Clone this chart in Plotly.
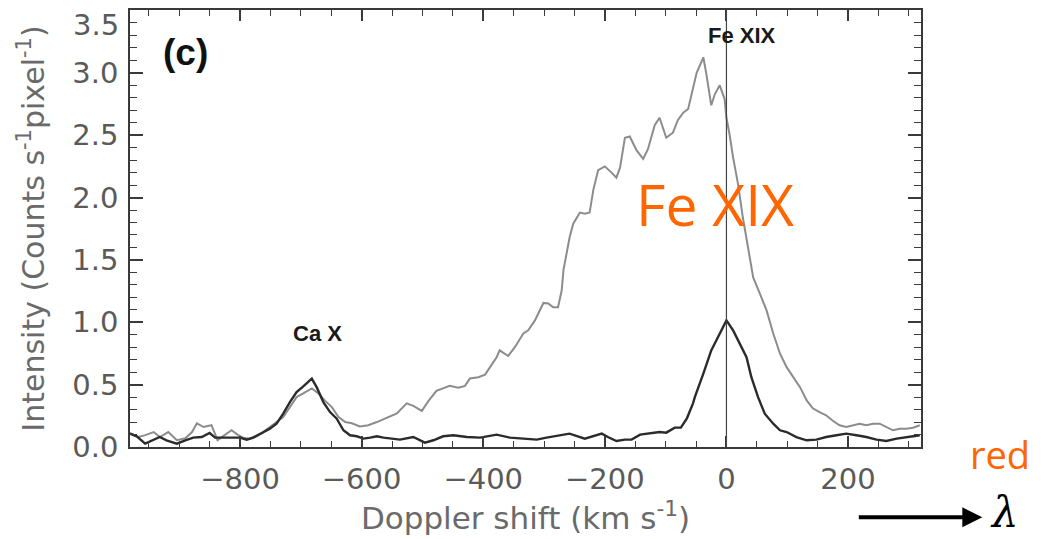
import plotly.graph_objects as go

# ---------------- data ----------------
gray_x = [-981, -967, -956, -942, -932, -918, -904, -890, -879, -871, -860, -847, -837, -825,
          -814, -803, -795, -784, -773, -762, -751, -740, -729, -718, -707, -696, -682, -671,
          -660, -649, -638, -627, -616, -603, -589, -575, -564, -556, -542, -526, -515, -501,
          -490, -477, -466, -455, -441, -430, -422, -408, -397, -389, -378, -373, -359, -348,
          -334, -326, -315, -301, -293, -285, -277, -271, -268, -258, -252, -241, -233, -225,
          -219, -211, -200, -189, -181, -175, -167, -159, -148, -137, -129, -118, -110, -99,
          -88, -80, -71, -63, -56, -49, -38, -33, -25, -19, -11, -3, 0, 5, 11, 19, 27, 36,
          44, 55, 66, 77, 88, 99, 110, 121, 132, 142, 153, 164, 175, 186, 197, 208, 219, 230,
          241, 252, 263, 274, 285, 296, 307, 318]
gray_y = [0.11, 0.08, 0.095, 0.12, 0.08, 0.12, 0.055, 0.07, 0.12, 0.19, 0.16, 0.175, 0.055, 0.095,
          0.135, 0.095, 0.075, 0.067, 0.095, 0.12, 0.16, 0.20, 0.24, 0.32, 0.40, 0.43, 0.47, 0.43,
          0.37, 0.32, 0.24, 0.20, 0.19, 0.165, 0.175, 0.20, 0.225, 0.24, 0.27, 0.35, 0.33, 0.29,
          0.37, 0.45, 0.47, 0.49, 0.475, 0.49, 0.55, 0.56, 0.58, 0.64, 0.72, 0.775, 0.73, 0.80,
          0.91, 0.935, 1.015, 1.155, 1.15, 1.12, 1.12, 1.255, 1.42, 1.68, 1.79, 1.88, 1.87, 1.88,
          2.06, 2.22, 2.25, 2.20, 2.16, 2.24, 2.48, 2.49, 2.38, 2.31, 2.39, 2.58, 2.64, 2.48,
          2.52, 2.62, 2.68, 2.71, 2.86, 3.00, 3.125, 2.99, 2.74, 2.83, 2.90, 2.79, 2.64, 2.51,
          2.32, 2.11, 1.84, 1.576, 1.36, 1.23, 1.095, 0.91, 0.75, 0.64, 0.56, 0.48, 0.374, 0.31,
          0.28, 0.254, 0.21, 0.174, 0.16, 0.174, 0.187, 0.174, 0.187, 0.187, 0.16, 0.134, 0.147,
          0.147, 0.155, 0.174]

black_x = [-981, -970, -956, -942, -932, -921, -904, -890, -877, -863, -850, -841, -833, -822,
           -811, -800, -789, -778, -764, -751, -740, -729, -718, -707, -696, -682, -674, -663,
           -652, -641, -630, -619, -608, -597, -586, -575, -564, -553, -537, -515, -496, -482,
           -466, -449, -427, -405, -378, -356, -334, -312, -296, -274, -258, -233, -205, -195,
           -181, -167, -156, -142, -126, -110, -99, -85, -75, -65, -55, -52, -38, -25, -14, 0,
           11, 22, 33, 41, 52, 63, 77, 88, 99, 115, 132, 148, 164, 181, 197, 214, 230, 247, 263,
           280, 296, 307, 318]
black_y = [0.107, 0.086, 0.027, 0.059, 0.08, 0.054, 0.027, 0.054, 0.075, 0.08, 0.112, 0.075, 0.075,
           0.075, 0.075, 0.075, 0.059, 0.075, 0.112, 0.147, 0.187, 0.268, 0.36, 0.44, 0.486, 0.548,
           0.48, 0.36, 0.28, 0.227, 0.134, 0.094, 0.086, 0.067, 0.075, 0.086, 0.075, 0.067, 0.059,
           0.08, 0.035, 0.054, 0.086, 0.094, 0.08, 0.075, 0.099, 0.075, 0.067, 0.059, 0.075, 0.097,
           0.107, 0.067, 0.107, 0.08, 0.048, 0.059, 0.059, 0.099, 0.107, 0.12, 0.115, 0.155, 0.155,
           0.23, 0.35, 0.40, 0.588, 0.775, 0.88, 1.015, 0.935, 0.83, 0.72, 0.56, 0.40, 0.267, 0.187,
           0.134, 0.12, 0.08, 0.054, 0.059, 0.08, 0.094, 0.107, 0.094, 0.08, 0.059, 0.048, 0.067,
           0.075, 0.086, 0.094]

X_RANGE = [-981, 320]
Y_RANGE = [0, 3.504]
Y_TICKS = [0.0, 0.5, 1.0, 1.5, 2.0, 2.5, 3.0, 3.5]
Y_TICK_TEXT = ["0.0", "0.5", "1.0", "1.5", "2.0", "2.5", "3.0", ""]  # top label drawn below
TOP_LABEL = "3.5"
REST_VELOCITY = 0  # Fe XIX rest position (vertical line)

# ---------------- figure ----------------
AXIS_COLOR = "#3a3a3a"
TICK_FONT = dict(family="DejaVu Sans", size=29, color="#5a5a5a")
YTITLE_FONT = dict(family="DejaVu Sans", size=30, color="#6a6a6a")
XTITLE_FONT = dict(family="DejaVu Sans", size=31, color="#6a6a6a")

fig = go.Figure()
fig.add_trace(go.Scatter(x=gray_x, y=gray_y, mode="lines",
                         line=dict(color="#8c8c8c", width=2), showlegend=False,
                         hoverinfo="skip"))
fig.add_trace(go.Scatter(x=black_x, y=black_y, mode="lines",
                         line=dict(color="#2b2b2b", width=2.4), showlegend=False,
                         hoverinfo="skip"))

fig.add_shape(type="line", xref="x", yref="paper", x0=REST_VELOCITY, x1=REST_VELOCITY,
              y0=0, y1=1, line=dict(color="#444444", width=1.2))

fig.update_xaxes(range=X_RANGE, dtick=200, tick0=0, ticks="inside", ticklen=11, tickwidth=1.6,
                 tickcolor=AXIS_COLOR, showline=True, linecolor=AXIS_COLOR, linewidth=1.6,
                 mirror="ticks", showgrid=False, zeroline=False, tickfont=TICK_FONT,
                 ticklabelstandoff=5, automargin=False,
                 minor=dict(ticks="inside", ticklen=6, dtick=50, tickcolor=AXIS_COLOR,
                            tickwidth=1.3, showgrid=False),
                 title=dict(text="Doppler shift (km s<sup>-1</sup>)", font=XTITLE_FONT,
                            standoff=12))
fig.update_yaxes(range=Y_RANGE, tickvals=Y_TICKS, ticktext=Y_TICK_TEXT, ticks="inside",
                 ticklen=13, tickwidth=1.6, tickcolor=AXIS_COLOR, showline=True,
                 linecolor=AXIS_COLOR, linewidth=1.6, mirror="ticks", showgrid=False,
                 zeroline=False, tickfont=TICK_FONT, ticklabelstandoff=4,
                 ticklabeloverflow="allow", automargin=False,
                 minor=dict(ticks="inside", ticklen=7, dtick=0.1, tickcolor=AXIS_COLOR,
                            tickwidth=1.3, showgrid=False),
                 title=dict(text="Intensity (Counts s<sup>-1</sup>pixel<sup>-1</sup>)",
                            font=YTITLE_FONT, standoff=19))

# top tick label, nudged down into the figure as in the reference
fig.add_annotation(x=0, y=Y_TICKS[-1], xref="paper", yref="y", text=TOP_LABEL,
                   showarrow=False, xanchor="right", yanchor="middle", xshift=-9, yshift=-14,
                   font=TICK_FONT)

ann_font = dict(family="Liberation Sans", color="#1a1a1a")
fig.add_annotation(x=-889, y=3.16, xref="x", yref="y", text="<b>(c)</b>", showarrow=False,
                   font=dict(family="Liberation Sans", size=37, color="#111111"))
fig.add_annotation(x=-673, y=0.91, xref="x", yref="y", text="<b>Ca X</b>", showarrow=False,
                   font=dict(size=22, **ann_font))
fig.add_annotation(x=25, y=3.30, xref="x", yref="y", text="<b>Fe XIX</b>", showarrow=False,
                   font=dict(size=22, **ann_font))
fig.add_annotation(x=-19, y=1.95, xref="x", yref="y", text="Fe XIX", showarrow=False,
                   font=dict(family="Open Sans", size=57, color="#ff6600"))
fig.add_annotation(x=1.0598, y=0.047, xref="paper", yref="paper", text="red", showarrow=False,
                   xanchor="left", yanchor="top",
                   font=dict(family="Open Sans", size=38, color="#ff6600"))
fig.add_annotation(x=1.0775, y=-0.161, xref="paper", yref="paper", text="", showarrow=True,
                   ax=-125, ay=0, arrowhead=2, arrowsize=1, arrowwidth=4, arrowcolor="#000000")
fig.add_annotation(x=1.085, y=-0.211, xref="paper", yref="paper", text="<i>λ</i>",
                   showarrow=False, xanchor="left", yanchor="bottom",
                   font=dict(family="DejaVu Serif", size=42, color="#000000"))

fig.update_layout(width=1045, height=539, margin=dict(l=130, r=124, t=10, b=92),
                  paper_bgcolor="white", plot_bgcolor="white", showlegend=False)

fig.write_html("out.html")
